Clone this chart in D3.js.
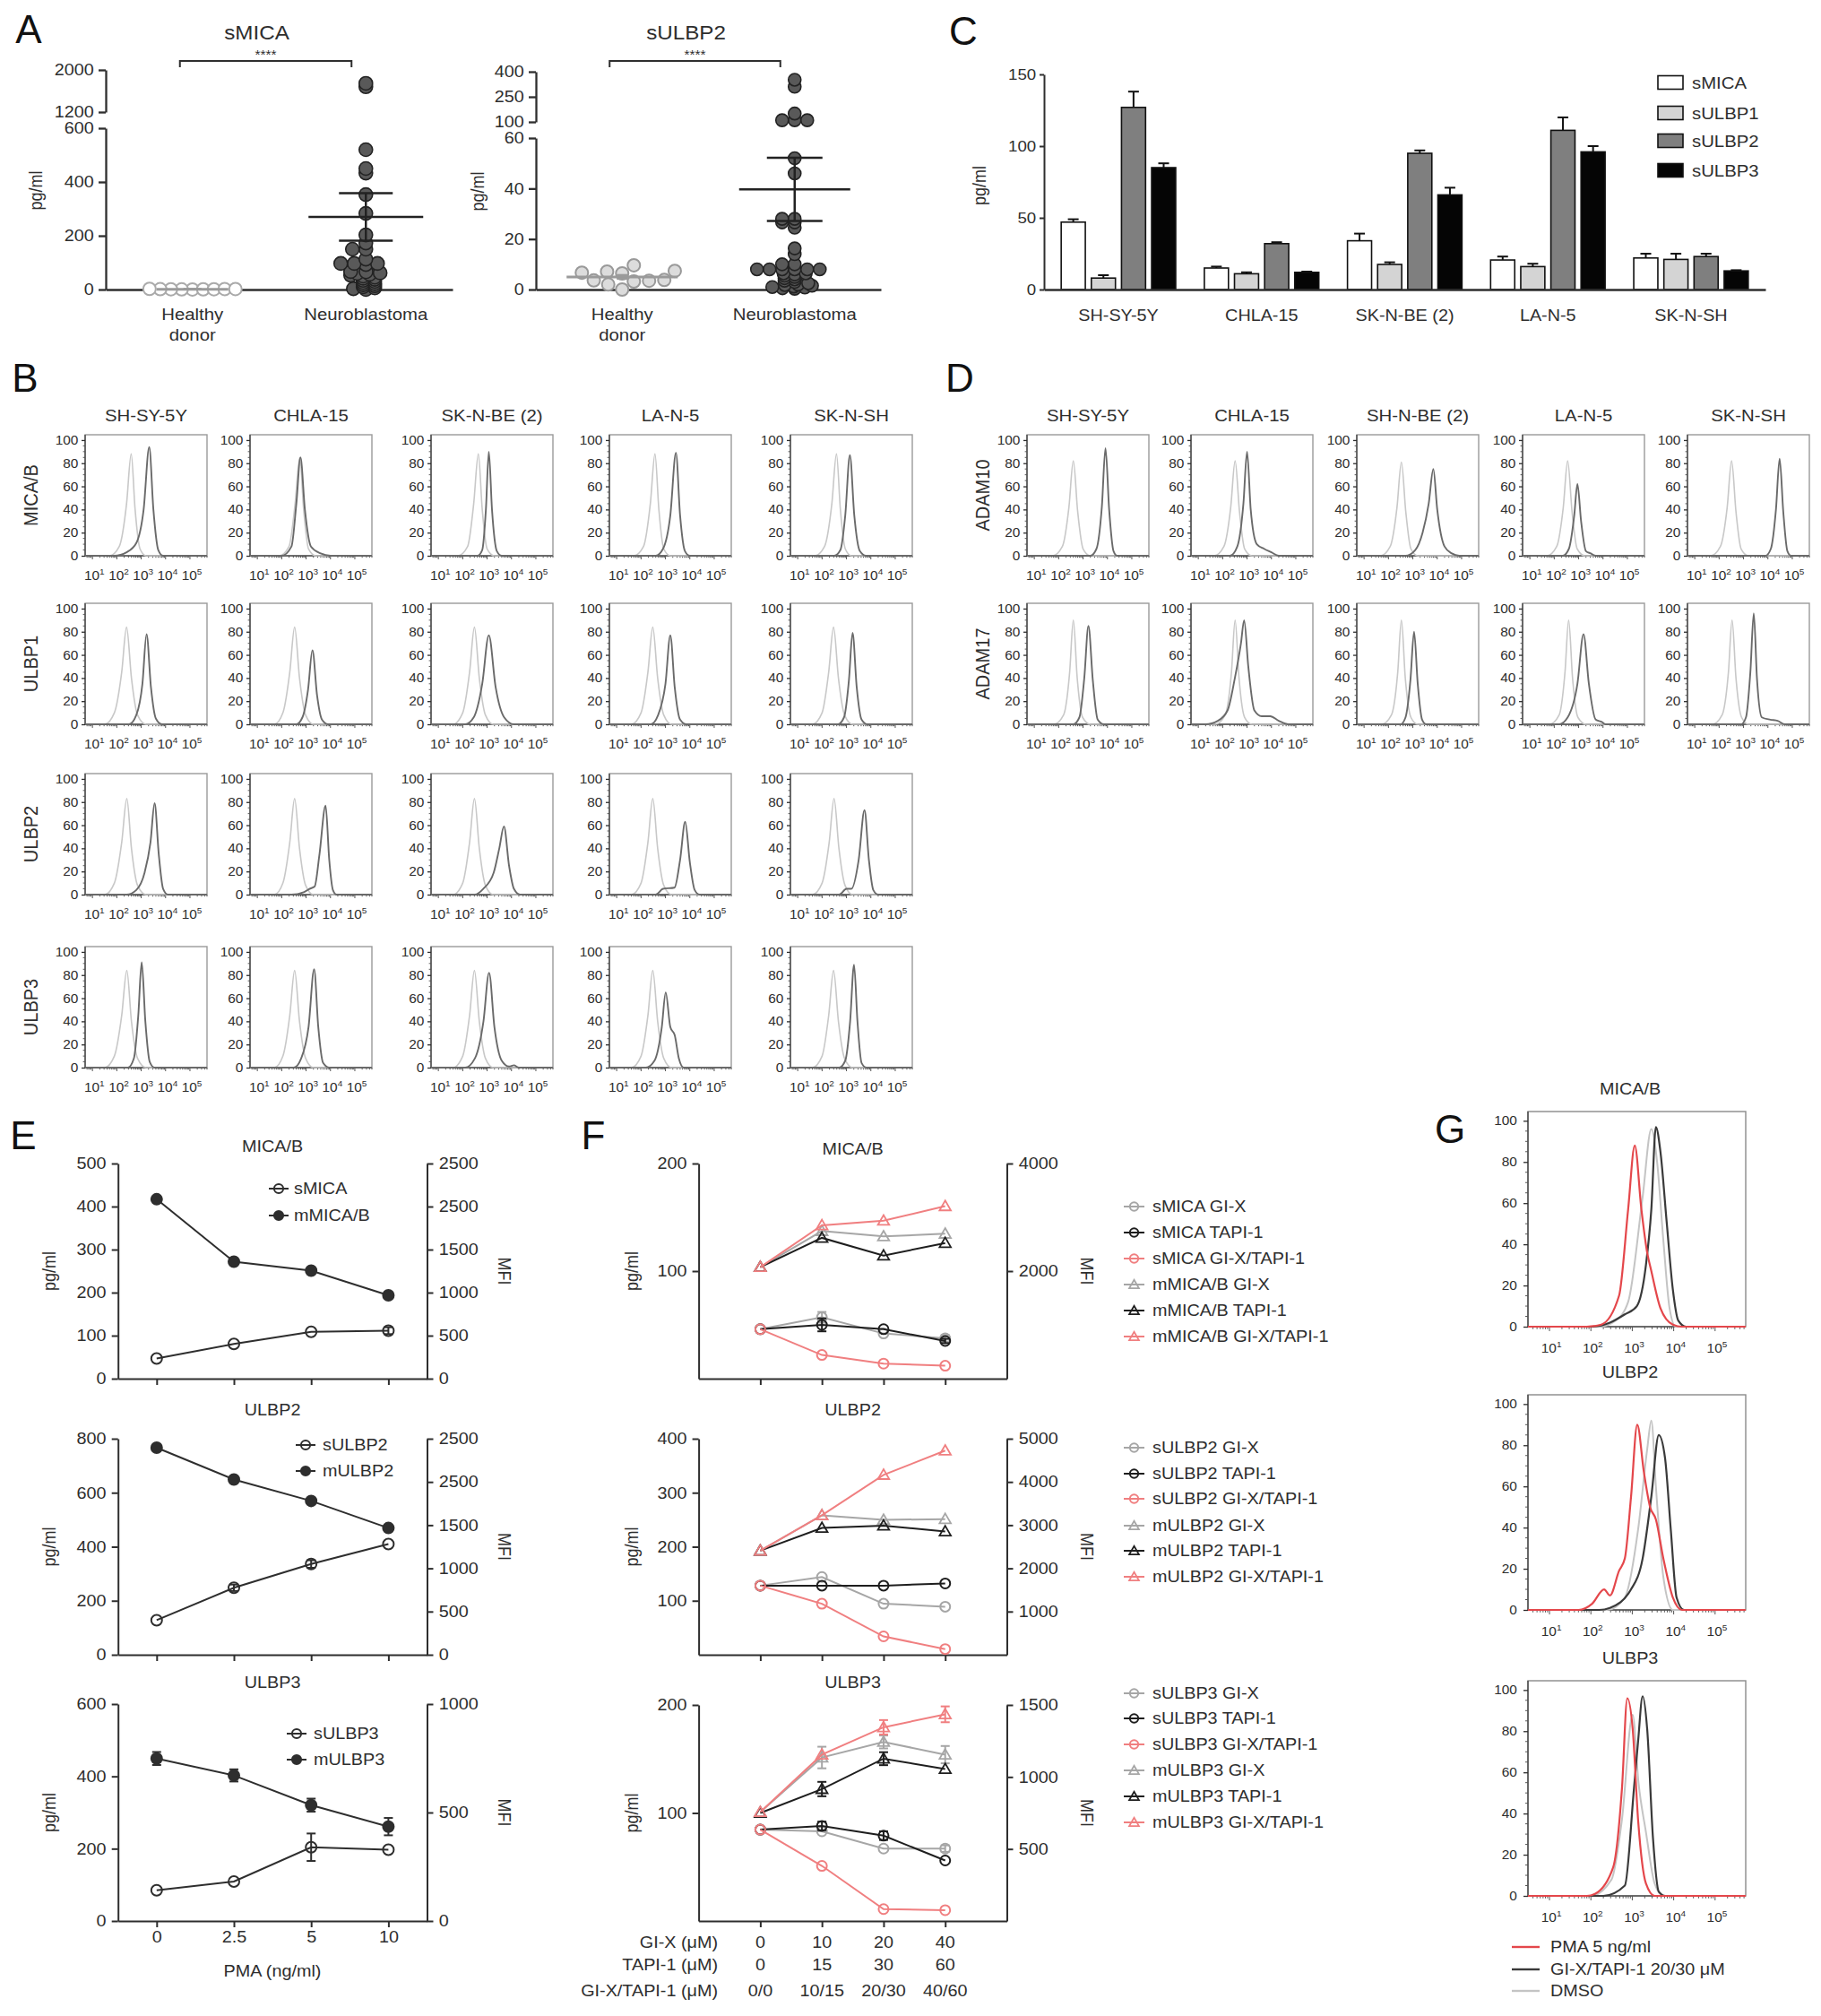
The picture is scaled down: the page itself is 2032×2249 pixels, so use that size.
<!DOCTYPE html>
<html><head><meta charset="utf-8">
<script src="https://cdnjs.cloudflare.com/ajax/libs/d3/7.8.5/d3.min.js"></script>
<style>body{margin:0;background:#fff}svg{display:block;font-family:"Liberation Sans",Arial,Helvetica,sans-serif}</style>
</head><body><script>
// ================= DATA =================
// ---- Panel A ----
const A_groups=["Healthy donor","Neuroblastoma"];
const A_sMICA_healthy=[0.5,1,1.5,2,0.8,1.2,2.5,0.3,1.8];
const A_sMICA_neuro=[1745,1680,520,450,433,353,283,203,173,150,150,113,97,97,97,93,67,66,62,60,57,53,50,46,42,38,34,30,26,22,18,14,10,6,3,0];
const A_sMICA_mean=[1.2,270], A_sMICA_sem=[0.3,88];
const A_sMICA_loTicks=[0,200,400,600], A_sMICA_hiTicks=[1200,2000];
const A_sULBP2_healthy=[6.4,3.5,9.6,7.4,3.2,0,2,6.7,3.8,3.6,7.1];
const A_sULBP2_neuro=[352,310,150,110,110,110,52,46,28,28,26.6,26.6,24.5,16.3,14,10,10,8,8,8,8,8,8,6.4,6.4,6,5.5,5,4.5,4,3.5,3,2.5,2,1.8,1.5,1.2,1,0.8,0.5,0.3];
const A_sULBP2_mean=[5,39.7], A_sULBP2_sem=[0.7,12.5];
const A_sULBP2_loTicks=[0,20,40,60], A_sULBP2_hiTicks=[100,250,400];

// ---- Panel C ----
const C_cells=["SH-SY-5Y","CHLA-15","SK-N-BE (2)","LA-N-5","SK-N-SH"];
const C_series=["sMICA","sULBP1","sULBP2","sULBP3"];
const C_sMICA=[47,15,34,20.6,22],  C_sMICA_err=[2,1,5,2.4,3];
const C_sULBP1=[8,11,17.5,16,21],  C_sULBP1_err=[2,1,1.5,2,4];
const C_sULBP2=[127,32,95,111,23], C_sULBP2_err=[11,1,2,9,2];
const C_sULBP3=[85,12,66,96,13],   C_sULBP3_err=[3,0.5,5,4,0.5];
const C_ticks=[0,50,100,150];

// ---- Panels B / D : histograms, points = [log10(fluorescence), % of max] ----
const B_cells=["SH-SY-5Y","CHLA-15","SK-N-BE (2)","LA-N-5","SK-N-SH"];
const B_markers=["MICA/B","ULBP1","ULBP2","ULBP3"];
const D_cells=["SH-SY-5Y","CHLA-15","SH-N-BE (2)","LA-N-5","SK-N-SH"];
const D_markers=["ADAM10","ADAM17"];
const H_yTicks=[0,20,40,60,80,100], H_xTicks=[1,2,3,4,5];

const B_MICAB_iso=[
 [[1.7,0],[2.1,8],[2.4,45],[2.59,88],[2.75,40],[2.95,6],[3.2,0]],
 [[1.9,0],[2.3,8],[2.55,45],[2.74,85],[2.9,40],[3.1,6],[3.4,0]],
 [[1.8,0],[2.2,8],[2.45,45],[2.64,88],[2.8,40],[3.0,6],[3.3,0]],
 [[1.7,0],[2.1,8],[2.38,45],[2.57,88],[2.73,40],[2.93,6],[3.2,0]],
 [[1.7,0],[2.1,8],[2.4,45],[2.59,88],[2.75,40],[2.95,6],[3.2,0]]];
const B_MICAB_stain=[
 [[1.9,0],[2.4,3],[2.8,11],[3.1,40],[3.33,94],[3.5,40],[3.7,5],[3.9,0]],
 [[2.0,0],[2.4,8],[2.6,45],[2.77,85],[2.95,40],[3.2,8],[3.6,2],[4.0,0]],
 [[2.6,0],[2.8,5],[2.95,40],[3.07,90],[3.2,40],[3.4,4],[3.6,0]],
 [[2.6,0],[2.9,6],[3.2,35],[3.43,89],[3.6,35],[3.8,4],[4.0,0]],
 [[2.5,0],[2.75,5],[2.95,35],[3.14,87],[3.32,35],[3.55,4],[3.8,0]]];
const B_ULBP1_iso=[
 [[1.5,0],[1.9,10],[2.2,45],[2.4,84],[2.6,40],[2.85,8],[3.2,0]],
 [[1.7,0],[2.05,10],[2.33,45],[2.53,84],[2.73,40],[2.98,8],[3.3,0]],
 [[1.6,0],[2.0,10],[2.28,45],[2.48,84],[2.68,40],[2.93,8],[3.25,0]],
 [[1.6,0],[2.0,10],[2.28,45],[2.48,84],[2.68,40],[2.93,8],[3.25,0]],
 [[1.6,0],[2.0,10],[2.27,45],[2.47,84],[2.67,40],[2.92,8],[3.25,0]]];
const B_ULBP1_stain=[
 [[2.5,0],[2.8,8],[3.05,35],[3.22,78],[3.4,32],[3.6,5],[3.85,0]],
 [[2.6,0],[2.85,6],[3.08,30],[3.26,64],[3.45,25],[3.65,4],[3.9,0]],
 [[2.1,0],[2.45,6],[2.8,35],[3.07,77],[3.35,32],[3.7,6],[4.1,0]],
 [[2.4,0],[2.7,8],[3.0,35],[3.2,77],[3.38,32],[3.6,4],[3.85,0]],
 [[2.65,0],[2.9,6],[3.1,38],[3.25,79],[3.42,32],[3.62,4],[3.85,0]]];
const B_ULBP2_iso=[
 [[1.5,0],[1.9,10],[2.2,45],[2.41,83],[2.6,40],[2.85,8],[3.2,0]],
 [[1.7,0],[2.05,10],[2.33,45],[2.53,83],[2.73,40],[2.98,8],[3.3,0]],
 [[1.6,0],[2.0,10],[2.28,45],[2.48,83],[2.68,40],[2.93,8],[3.25,0]],
 [[1.6,0],[2.0,10],[2.28,45],[2.48,83],[2.68,40],[2.93,8],[3.25,0]],
 [[1.6,0],[2.0,10],[2.29,45],[2.49,83],[2.69,40],[2.94,8],[3.25,0]]];
const B_ULBP2_stain=[
 [[2.4,0],[2.8,4],[3.14,19],[3.38,45],[3.55,79],[3.72,35],[3.9,5],[4.1,0]],
 [[2.4,0],[2.9,2],[3.14,5],[3.35,7],[3.55,35],[3.8,77],[3.95,30],[4.1,4],[4.25,0]],
 [[2.5,0],[2.84,5],[3.27,19],[3.5,40],[3.69,59],[3.9,25],[4.1,5],[4.35,0]],
 [[2.6,0],[2.9,5],[3.37,6],[3.6,30],[3.81,63],[4.0,28],[4.2,4],[4.4,0]],
 [[2.7,0],[3.0,5],[3.2,5],[3.5,30],[3.74,73],[3.92,30],[4.1,4],[4.3,0]]];
const B_ULBP3_iso=[
 [[1.5,0],[1.9,10],[2.2,45],[2.41,84],[2.6,40],[2.85,8],[3.2,0]],
 [[1.7,0],[2.05,10],[2.33,45],[2.53,84],[2.73,40],[2.98,8],[3.3,0]],
 [[1.6,0],[2.0,10],[2.28,45],[2.48,84],[2.68,40],[2.93,8],[3.25,0]],
 [[1.6,0],[2.0,10],[2.28,45],[2.48,84],[2.68,40],[2.93,8],[3.25,0]],
 [[1.6,0],[2.0,10],[2.27,45],[2.47,84],[2.67,40],[2.92,8],[3.25,0]]];
const B_ULBP3_stain=[
 [[2.45,0],[2.7,8],[2.88,45],[3.02,91],[3.17,40],[3.35,5],[3.55,0]],
 [[2.5,0],[2.8,8],[3.1,35],[3.33,85],[3.5,35],[3.7,4],[3.95,0]],
 [[2.1,0],[2.5,8],[2.85,40],[3.08,82],[3.3,35],[3.6,6],[3.9,1],[4.1,2],[4.3,0]],
 [[2.2,0],[2.55,6],[2.85,35],[3.01,65],[3.2,35],[3.38,28],[3.55,8],[3.75,0]],
 [[2.7,0],[2.95,6],[3.15,40],[3.31,89],[3.45,40],[3.62,4],[3.82,0]]];

const D_ADAM10_iso=[
 [[1.75,0],[2.15,8],[2.42,42],[2.6,82],[2.78,38],[3.0,6],[3.3,0]],
 [[1.65,0],[2.05,8],[2.33,42],[2.51,82],[2.69,38],[2.9,6],[3.2,0]],
 [[1.67,0],[2.07,8],[2.35,42],[2.53,81],[2.71,38],[2.92,6],[3.2,0]],
 [[1.7,0],[2.1,8],[2.37,42],[2.55,82],[2.73,38],[2.94,6],[3.25,0]],
 [[1.65,0],[2.05,8],[2.33,42],[2.51,82],[2.69,38],[2.9,6],[3.2,0]]];
const D_ADAM10_stain=[
 [[3.3,0],[3.55,6],[3.77,42],[3.92,93],[4.07,40],[4.25,4],[4.4,0]],
 [[2.3,0],[2.6,8],[2.85,45],[3.0,90],[3.15,40],[3.4,10],[3.7,6],[4.0,3],[4.3,0]],
 [[2.7,0],[3.1,5],[3.4,20],[3.65,45],[3.84,75],[4.0,40],[4.3,8],[4.6,2],[4.9,0]],
 [[2.35,0],[2.6,6],[2.82,35],[2.95,62],[3.1,30],[3.3,4],[3.5,2],[3.7,0]],
 [[3.9,0],[4.12,6],[4.33,40],[4.48,84],[4.63,38],[4.8,4],[4.95,0]]];
const D_ADAM17_iso=[
 [[1.8,0],[2.2,8],[2.45,45],[2.6,90],[2.76,40],[2.98,6],[3.3,0]],
 [[1.7,0],[2.1,8],[2.36,45],[2.51,90],[2.67,40],[2.9,6],[3.2,0]],
 [[1.72,0],[2.12,8],[2.38,45],[2.53,90],[2.69,40],[2.92,6],[3.2,0]],
 [[1.8,0],[2.2,8],[2.44,45],[2.59,90],[2.75,40],[2.97,6],[3.3,0]],
 [[1.72,0],[2.12,8],[2.38,45],[2.53,90],[2.69,40],[2.92,6],[3.2,0]]];
const D_ADAM17_stain=[
 [[2.6,0],[2.85,6],[3.05,40],[3.22,85],[3.4,38],[3.6,4],[3.85,0]],
 [[1.3,0],[1.8,3],[2.2,12],[2.5,40],[2.75,70],[2.88,90],[3.05,50],[3.3,12],[3.6,7],[3.95,7],[4.3,3],[4.7,0]],
 [[2.5,0],[2.7,6],[2.9,38],[3.05,80],[3.2,35],[3.38,4],[3.55,0]],
 [[2.2,0],[2.55,6],[2.95,35],[3.2,78],[3.42,35],[3.7,4],[3.95,2],[4.1,0]],
 [[2.9,0],[3.1,6],[3.28,45],[3.42,96],[3.55,40],[3.75,6],[4.1,4],[4.4,3],[4.7,0]]];

// ---- Panel E ----
const E_pma=["0","2.5","5","10"];
const E_sMICA=[47,80.6,109,111.5], E_sMICA_err=[0,0,0,8];
const E_mMICAB=[2085,1359,1255,969];
const E_sULBP2=[128,248,336,410], E_sULBP2_err=[0,12,14,0];
const E_mULBP2=[2396,2028,1780,1467];
const E_sULBP3=[85,109,204,197], E_sULBP3_err=[0,0,38,0];
const E_mULBP3=[749,671,534,435], E_mULBP3_err=[30,28,30,40];
const E_rightLabelsA=["0","500","1000","1500","2500","2500"];

// ---- Panel F ----
const F_gix=["0","10","20","40"], F_tapi=["0","15","30","60"], F_combo=["0/0","10/15","20/30","40/60"];
const F_sMICA_GIX=[46,57,42,37.5], F_sMICA_GIX_err=[0,5,0,3];
const F_sMICA_TAPI=[46,50,46,35],  F_sMICA_TAPI_err=[0,6,0,2];
const F_sMICA_COMBO=[46,22,14,12];
const F_mMICAB_GIX=[2074,2744,2645,2694];
const F_mMICAB_TAPI=[2074,2618,2288,2522];
const F_mMICAB_COMBO=[2074,2851,2937,3207];
const F_sULBP2_GIX=[128,144,94.5,89];
const F_sULBP2_TAPI=[128,128,128,132];
const F_sULBP2_COMBO=[128,94.5,34,10.5];
const F_mULBP2_GIX=[2408,3227,3122,3140];
const F_mULBP2_TAPI=[2408,2935,2989,2854];
const F_mULBP2_COMBO=[2408,3227,4163,4724];
const F_sULBP3_GIX=[84.6,83,67,67], F_sULBP3_GIX_err=[0,0,0,3];
const F_sULBP3_TAPI=[84.6,88,79,56], F_sULBP3_TAPI_err=[0,4,4,0];
const F_sULBP3_COMBO=[84.6,51,11,10];
const F_mULBP3_GIX=[756,1135,1243,1155], F_mULBP3_GIX_err=[0,75,45,60];
const F_mULBP3_TAPI=[750,916,1127,1055], F_mULBP3_TAPI_err=[0,50,45,0];
const F_mULBP3_COMBO=[756,1155,1345,1435], F_mULBP3_COMBO_err=[0,0,50,55];

// ---- Panel G ----
const G_titles=["MICA/B","ULBP2","ULBP3"];
const G_legend=["PMA 5 ng/ml","GI-X/TAPI-1 20/30 \u03bcM","DMSO"];
const G_MICAB_DMSO=[[2.2,0],[2.6,3],[2.9,12],[3.25,63],[3.46,96],[3.6,80],[3.75,42],[3.9,9],[4.05,0]];
const G_MICAB_GIX=[[2.0,0],[2.46,2],[2.82,6],[3.11,10],[3.33,30],[3.46,57],[3.57,97],[3.68,85],[3.83,51],[3.98,18],[4.11,3],[4.3,0]];
const G_MICAB_PMA=[[1.9,0],[2.25,1],[2.68,15],[2.9,57],[3.06,88],[3.22,57],[3.36,36],[3.46,27],[3.68,9],[3.98,1],[4.2,0]];
const G_ULBP2_DMSO=[[2.4,0],[2.82,6],[3.14,39],[3.36,78],[3.46,92],[3.57,60],[3.75,16],[3.98,0]];
const G_ULBP2_GIX=[[2.2,0],[2.46,1],[2.97,10],[3.25,25],[3.46,55],[3.64,85],[3.79,74],[3.93,39],[4.07,6],[4.25,0]];
const G_ULBP2_PMA=[[1.7,0],[2.03,3],[2.32,10],[2.46,7],[2.68,19],[2.82,25],[2.97,55],[3.12,90],[3.28,67],[3.43,50],[3.57,44],[3.75,25],[3.98,6],[4.2,0]];
const G_ULBP3_DMSO=[[2.0,0],[2.5,8],[2.75,37],[3.01,88],[3.15,55],[3.33,31],[3.54,6],[3.75,0]];
const G_ULBP3_GIX=[[2.3,0],[2.82,5],[3.04,52],[3.14,75],[3.25,97],[3.36,81],[3.5,28],[3.64,2],[3.8,0]];
const G_ULBP3_PMA=[[1.9,0],[2.1,1],[2.54,14],[2.75,52],[2.88,96],[3.01,81],[3.14,37],[3.33,6],[3.54,0]];

// ================= LAYOUT / STYLE =================
const SX=1.1, INK="#2e2e2e";
const GRAY="#a6a6a6", BLACK="#1e1e1e", RED="#f07f80";
const svg=d3.select("body").append("svg").attr("width",2032).attr("height",2249);
svg.append("rect").attr("width",2032).attr("height",2249).attr("fill","#fff");

function txt(g,x,y,s,o={}){
  const t=g.append("text")
   .attr("transform",`translate(${x},${y}) scale(${o.sx??SX},1)${o.rot?` rotate(${o.rot})`:""}`)
   .attr("font-size",o.fs||18).attr("text-anchor",o.anchor||"middle").attr("fill",o.fill||INK);
  t.text(s); return t;
}
function styleAxis(sel,fs,sw){
  sel.attr("font-family",null).attr("font-size",null);
  sel.selectAll("path.domain").attr("stroke",INK).attr("stroke-width",sw);
  sel.selectAll(".tick line").attr("stroke",INK).attr("stroke-width",sw);
  sel.selectAll(".tick text").attr("font-size",fs).attr("fill",INK).attr("transform",`scale(${SX},1)`);
  return sel;
}
function marker(g,cx,cy,shape,color,filled,sz){
  if(shape==="circle") g.append("circle").attr("cx",cx).attr("cy",cy).attr("r",sz)
     .attr("fill",filled?color:"none").attr("stroke",color).attr("stroke-width",2);
  else g.append("path").attr("d",d3.symbol(d3.symbolTriangle,sz*sz*2.3)())
     .attr("transform",`translate(${cx},${cy+1})`).attr("fill",filled?color:"none")
     .attr("stroke",color).attr("stroke-width",1.8);
}

// panel letters
[["A",32,48],["B",28,437],["C",1075,50],["D",1071,437],["E",26,1282],["F",662,1282],["G",1618,1275]]
 .forEach(([s,x,y])=>txt(svg,x,y,s,{fs:44,sx:1,fill:"#111"}));

// ================= PANEL A =================
function swarm(vals,yf,a,b){
  const pts=vals.map(v=>({v,y:yf(v),x:0})).sort((p,q)=>p.v-q.v);
  const placed=[];
  pts.forEach(p=>{
    const c=[0];
    placed.forEach(q=>{const dy=(p.y-q.y)/b; if(Math.abs(dy)<1){const dx=a*Math.sqrt(1-dy*dy); c.push(q.x+dx+0.01,q.x-dx-0.01);}});
    c.sort((m,n)=>Math.abs(m)-Math.abs(n)||m-n);
    for(const cx of c){ if(placed.every(q=>{const dx=(cx-q.x)/a,dy=(p.y-q.y)/b;return dx*dx+dy*dy>=0.999;})){p.x=cx;break;} }
    placed.push(p);
  });
  return placed;
}
function panelA(S){
  const g=svg.append("g");
  const yLo=d3.scaleLinear().domain([0,S.loTicks[S.loTicks.length-1]]).range([S.y0,S.yLoTop]);
  const yHi=d3.scaleLinear().domain([S.hiTicks[0],S.hiTicks[S.hiTicks.length-1]]).range([S.yHiBot,S.yHiTop]);
  const loMax=yLo.domain()[1];
  const y=v=>v<=loMax?yLo(v):yHi(v);
  const x=d3.scalePoint().domain(A_groups).range([S.x0,S.x1]).padding(0.5);
  const fmt=d3.format("d");
  styleAxis(g.append("g").attr("transform",`translate(${S.x0},0)`).call(d3.axisLeft(yLo).tickValues(S.loTicks).tickFormat(fmt).tickSize(8).tickSizeOuter(0).tickPadding(4)),18,2.3);
  styleAxis(g.append("g").attr("transform",`translate(${S.x0},0)`).call(d3.axisLeft(yHi).tickValues(S.hiTicks).tickFormat(fmt).tickSize(8).tickSizeOuter(0).tickPadding(4)),18,2.3);
  styleAxis(g.append("g").attr("transform",`translate(0,${S.y0})`).call(d3.axisBottom(x).tickSize(5).tickSizeOuter(0).tickFormat(()=>"")),18,2.3);
  txt(g,x(A_groups[0]),S.y0+34,"Healthy",{fs:18.5});
  txt(g,x(A_groups[0]),S.y0+57,"donor",{fs:18.5});
  txt(g,x(A_groups[1]),S.y0+34,"Neuroblastoma",{fs:18.5});
  txt(g,S.ylabX,(S.y0+S.yHiTop)/2+12,"pg/ml",{fs:18,rot:-90});
  const bx0=x(A_groups[0])-14, bx1=x(A_groups[1])-16;
  g.append("path").attr("d",`M${bx0},75V68H${bx1}V75`).attr("fill","none").attr("stroke",INK).attr("stroke-width",2);
  txt(g,(bx0+bx1)/2,66,"****",{fs:14});
  txt(g,(bx0+bx1)/2-10,44,S.title,{fs:22});
  const groups=[S.healthy,S.neuro];
  groups.forEach((vals,gi)=>{
    const cx=x(A_groups[gi]);
    const pts=swarm(vals,y,gi?S.aN:S.aH,gi?2.4:S.bH);
    pts.forEach(p=>g.append("circle").attr("cx",cx+p.x).attr("cy",p.y).attr("r",gi?S.rN:7)
      .attr("fill",gi?"#595959":S.hFill).attr("stroke",gi?"#222":S.hStroke).attr("stroke-width",gi?1.6:2));
  });
  [0,1].forEach(gi=>{
    const cx=x(A_groups[gi]), col=gi?"#222":"#9a9a9a", m=S.mean[gi], s=S.sem[gi];
    g.append("line").attr("x1",cx-S.mw[gi]).attr("x2",cx+S.mw[gi]).attr("y1",y(m)).attr("y2",y(m)).attr("stroke",col).attr("stroke-width",gi?2.5:3);
    g.append("line").attr("x1",cx).attr("x2",cx).attr("y1",y(m-s)).attr("y2",y(m+s)).attr("stroke",col).attr("stroke-width",2.5);
    [m-s,m+s].forEach(v=>g.append("line").attr("x1",cx-S.cw[gi]).attr("x2",cx+S.cw[gi]).attr("y1",y(v)).attr("y2",y(v)).attr("stroke",col).attr("stroke-width",2.5));
  });
}
panelA({title:"sMICA",x0:118,x1:505,y0:323,yLoTop:143,yHiBot:125,yHiTop:78,loTicks:A_sMICA_loTicks,hiTicks:A_sMICA_hiTicks,
  healthy:A_sMICA_healthy,neuro:A_sMICA_neuro,mean:A_sMICA_mean,sem:A_sMICA_sem,aH:12,bH:2.4,aN:15,rN:7.5,
  hFill:"#fff",hStroke:"#aaa",mw:[40,64],cw:[10,30],ylabX:47});
panelA({title:"sULBP2",x0:598,x1:983,y0:323,yLoTop:154,yHiBot:136,yHiTop:80,loTicks:A_sULBP2_loTicks,hiTicks:A_sULBP2_hiTicks,
  healthy:A_sULBP2_healthy,neuro:A_sULBP2_neuro,mean:A_sULBP2_mean,sem:A_sULBP2_sem,aH:17,bH:14,aN:14,rN:7,
  hFill:"#dcdcdc",hStroke:"#999",mw:[62,62],cw:[6,31],ylabX:540});

// ================= PANEL C =================
(function(){
  const g=svg.append("g");
  const x0=d3.scaleBand().domain(C_cells).range([1165,1970]).paddingInner(0.2).paddingOuter(0.12);
  const x1=d3.scaleBand().domain(C_series).range([0,x0.bandwidth()]).paddingInner(0.2);
  const y=d3.scaleLinear().domain([0,150]).range([323,83]);
  const vals=[C_sMICA,C_sULBP1,C_sULBP2,C_sULBP3], errs=[C_sMICA_err,C_sULBP1_err,C_sULBP2_err,C_sULBP3_err];
  const fills=["#ffffff","#d4d4d4","#7f7f7f","#050505"];
  C_series.forEach((s,si)=>C_cells.forEach((c,ci)=>{
    const bx=x0(c)+x1(s), v=vals[si][ci], e=errs[si][ci], cx=bx+x1.bandwidth()/2;
    g.append("line").attr("x1",cx).attr("x2",cx).attr("y1",y(v)).attr("y2",y(v+e)).attr("stroke","#111").attr("stroke-width",2);
    g.append("line").attr("x1",cx-6).attr("x2",cx+6).attr("y1",y(v+e)).attr("y2",y(v+e)).attr("stroke","#111").attr("stroke-width",2);
    g.append("rect").attr("x",bx).attr("y",y(v)).attr("width",x1.bandwidth()).attr("height",y(0)-y(v))
      .attr("fill",fills[si]).attr("stroke","#111").attr("stroke-width",1.6);
  }));
  styleAxis(g.append("g").attr("transform","translate(1165,0)").call(d3.axisLeft(y).tickValues(C_ticks).tickSize(5).tickSizeOuter(0).tickPadding(3)),17,2);
  styleAxis(g.append("g").attr("transform","translate(0,323)").call(d3.axisBottom(x0).tickSize(0).tickSizeOuter(0).tickPadding(22)),18,2.4);
  txt(g,1100,207,"pg/ml",{fs:18,rot:-90});
  const ly=[92,126,157,190];
  C_series.forEach((s,i)=>{
    g.append("rect").attr("x",1850).attr("y",ly[i]-7.5).attr("width",28).attr("height",15).attr("fill",fills[i]).attr("stroke","#111").attr("stroke-width",1.6);
    txt(g,1888,ly[i]+7,s,{fs:18.5,anchor:"start"});
  });
})();

// ================= HISTOGRAMS (B, D, G) =================
function histPanel(g,L,T,Wd,Ht,xdom,ymax,curves,o){
  const x=d3.scaleLinear().domain(xdom).range([L,L+Wd]);
  const y=d3.scaleLinear().domain([0,ymax]).range([T+Ht,T]);
  g.append("rect").attr("x",L).attr("y",T).attr("width",Wd).attr("height",Ht).attr("fill","none").attr("stroke",o.box).attr("stroke-width",1.4);
  g.append("path").attr("d",`M${L},${T}V${T+Ht}H${L+Wd}`).attr("fill","none").attr("stroke",o.axis).attr("stroke-width",1.6);
  const ya=g.append("g").attr("transform",`translate(${L},0)`).call(d3.axisLeft(y).tickValues(H_yTicks).tickSize(o.tick).tickPadding(o.pad).tickSizeOuter(0));
  styleAxis(ya,o.fsY,1.3); ya.select(".domain").remove();
  d3.range(5,ymax,5).filter(v=>v%20).forEach(v=>g.append("line").attr("x1",L-o.tick*0.6).attr("x2",L).attr("y1",y(v)).attr("y2",y(v)).attr("stroke",o.axis).attr("stroke-width",1));
  for(let d=Math.floor(xdom[0]);d<=Math.ceil(xdom[1]);d++){
    for(let m=1;m<10;m++){
      const lv=d+Math.log10(m); if(lv<xdom[0]||lv>xdom[1]) continue;
      g.append("line").attr("x1",x(lv)).attr("x2",x(lv)).attr("y1",T+Ht).attr("y2",T+Ht+(m===1?o.tick:o.tick*0.55)).attr("stroke",o.axis).attr("stroke-width",1);
    }
  }
  H_xTicks.forEach(k=>{
    const t=txt(g,x(k)+o.fsX*0.15,T+Ht+o.lab,"",{fs:o.fsX});
    t.append("tspan").text("10");
    t.append("tspan").attr("font-size",o.fsX*0.65).attr("dy",-o.fsX*0.4).text(k);
  });
  const line=d3.line().x(d=>x(d[0])).y(d=>y(d[1])).curve(d3.curveMonotoneX);
  curves.forEach(c=>g.append("path").attr("d",line([[xdom[0],0],...c.pts,[xdom[1],0]]))
     .attr("fill","none").attr("stroke",c.color).attr("stroke-width",c.w).attr("stroke-linejoin","round"));
}
const histStyleBD={box:"#9a9a9a",axis:"#555",tick:4,pad:3,fsY:14,fsX:14,lab:27};
const ISO="#c8c8c8", STAIN="#6a6a6a";

// Panel B
(function(){
  const g=svg.append("g");
  const colL=[95,279,481,680,882], rowT=[485,673,863,1056], Wd=136, Ht=135;
  const rows=[[B_MICAB_iso,B_MICAB_stain],[B_ULBP1_iso,B_ULBP1_stain],[B_ULBP2_iso,B_ULBP2_stain],[B_ULBP3_iso,B_ULBP3_stain]];
  B_cells.forEach((c,ci)=>txt(g,colL[ci]+Wd/2,470,c,{fs:18.5}));
  B_markers.forEach((m,ri)=>txt(g,42,rowT[ri]+Ht/2,m,{fs:20,rot:-90}));
  rows.forEach((r,ri)=>colL.forEach((L,ci)=>histPanel(g,L,rowT[ri],Wd,Ht,[0.7,5.7],104.6,
    [{pts:r[0][ci],color:ISO,w:1.6},{pts:r[1][ci],color:STAIN,w:1.9}],histStyleBD)));
})();
// Panel D
(function(){
  const g=svg.append("g");
  const colL=[1146,1329,1514,1699,1883], rowT=[485,673], Wd=136, Ht=135;
  const rows=[[D_ADAM10_iso,D_ADAM10_stain],[D_ADAM17_iso,D_ADAM17_stain]];
  D_cells.forEach((c,ci)=>txt(g,colL[ci]+Wd/2,470,c,{fs:18.5}));
  D_markers.forEach((m,ri)=>txt(g,1104,rowT[ri]+Ht/2,m,{fs:20,rot:-90}));
  rows.forEach((r,ri)=>colL.forEach((L,ci)=>histPanel(g,L,rowT[ri],Wd,Ht,[0.7,5.7],104.6,
    [{pts:r[0][ci],color:ISO,w:1.6},{pts:r[1][ci],color:STAIN,w:1.9}],histStyleBD)));
})();
// Panel G
(function(){
  const g=svg.append("g");
  const tops=[1240,1556,1875], L=1705, Wd=243, Ht=240;
  const sets=[[G_MICAB_DMSO,G_MICAB_GIX,G_MICAB_PMA],[G_ULBP2_DMSO,G_ULBP2_GIX,G_ULBP2_PMA],[G_ULBP3_DMSO,G_ULBP3_GIX,G_ULBP3_PMA]];
  const cols=["#c4c4c4","#3a3a3a","#e4474b"];
  const st={box:"#8a8a8a",axis:"#555",tick:5,pad:6,fsY:14,fsX:14,lab:29};
  sets.forEach((s,i)=>{
    txt(g,1819,tops[i]-19,G_titles[i],{fs:18});
    histPanel(g,L,tops[i],Wd,Ht,[0.48,5.74],104.5,s.map((p,j)=>({pts:p,color:cols[j],w:j===0?2:2.2})),st);
  });
  const ly=[2172,2197,2221], lc=[cols[2],cols[1],cols[0]];
  G_legend.forEach((s,i)=>{
    g.append("line").attr("x1",1687).attr("x2",1718).attr("y1",ly[i]).attr("y2",ly[i]).attr("stroke",lc[i]).attr("stroke-width",2.4);
    txt(g,1730,ly[i]+6,s,{fs:18,anchor:"start"});
  });
})();

// ================= PANELS E / F =================
function dualPanel(S){
  const g=svg.append("g");
  const x=d3.scalePoint().domain(S.cats).range([S.l,S.r]).padding(S.pad);
  const yL=d3.scaleLinear().domain(S.yLdom).range([S.bot,S.top]);
  const yR=d3.scaleLinear().domain(S.yRdom).range([S.bot,S.top]);
  styleAxis(g.append("g").attr("transform",`translate(${S.l},0)`).call(d3.axisLeft(yL).tickValues(S.yLticks).tickSize(7).tickSizeOuter(0).tickPadding(5)),18,2);
  styleAxis(g.append("g").attr("transform",`translate(${S.r},0)`).call(d3.axisRight(yR).tickValues(S.yRticks).tickFormat((d,i)=>S.yRlabels?S.yRlabels[i]:d).tickSize(7).tickSizeOuter(0).tickPadding(5)),18,2);
  styleAxis(g.append("g").attr("transform",`translate(0,${S.bot})`).call(d3.axisBottom(x).tickSize(7).tickSizeOuter(0).tickPadding(4).tickFormat(S.xlabels?(d,i)=>S.xlabels[i]:()=>"")),18,2);
  txt(g,(S.l+S.r)/2,S.titleY,S.title,{fs:18});
  txt(g,S.plX,(S.top+S.bot)/2,"pg/ml",{fs:18,rot:-90});
  txt(g,S.mfiX,(S.top+S.bot)/2,"MFI",{fs:18,rot:90});
  S.series.forEach(s=>{
    const y=s.axis==="R"?yR:yL;
    const pts=s.vals.map((v,i)=>({x:x(S.cats[i]),v,e:s.err?s.err[i]:0}));
    g.append("path").attr("d",d3.line().x(d=>d.x).y(d=>y(d.v))(pts)).attr("fill","none").attr("stroke",s.color).attr("stroke-width",2);
    pts.forEach(p=>{ if(p.e>0){
      g.append("line").attr("x1",p.x).attr("x2",p.x).attr("y1",y(p.v-p.e)).attr("y2",y(p.v+p.e)).attr("stroke",s.color).attr("stroke-width",2);
      [p.v-p.e,p.v+p.e].forEach(v=>g.append("line").attr("x1",p.x-5).attr("x2",p.x+5).attr("y1",y(v)).attr("y2",y(v)).attr("stroke",s.color).attr("stroke-width",2));
    }});
    pts.forEach(p=>marker(g,p.x,y(p.v),s.shape,s.color,s.filled,S.msz));
  });
  S.legend.forEach((it,i)=>{
    const yy=S.legY[i];
    g.append("line").attr("x1",S.legX0).attr("x2",S.legX1).attr("y1",yy).attr("y2",yy).attr("stroke",it.color).attr("stroke-width",2);
    marker(g,(S.legX0+S.legX1)/2,yy,it.shape,it.color,it.filled,S.msz*0.85);
    txt(g,S.legTX,yy+6,it.label,{fs:18,anchor:"start"});
  });
  return {g,x};
}
// E
const Ecommon={cats:E_pma,l:131.7,r:476.5,pad:0.5,plX:62,mfiX:556,msz:6};
const eS=(vals,err,axis,filled)=>({vals,err,axis,shape:"circle",filled,color:INK});
dualPanel({...Ecommon,top:1298,bot:1538,title:"MICA/B",titleY:1285,yLdom:[0,500],yLticks:[0,100,200,300,400,500],
  yRdom:[0,2500],yRticks:[0,500,1000,1500,2000,2500],yRlabels:E_rightLabelsA,
  series:[eS(E_mMICAB,null,"R",true),eS(E_sMICA,E_sMICA_err,"L",false)],
  legend:[{label:"sMICA",shape:"circle",filled:false,color:INK},{label:"mMICA/B",shape:"circle",filled:true,color:INK}],
  legX0:300,legX1:322,legTX:328,legY:[1326,1356]});
dualPanel({...Ecommon,top:1605,bot:1846,title:"ULBP2",titleY:1579,yLdom:[0,800],yLticks:[0,200,400,600,800],
  yRdom:[0,2500],yRticks:[0,500,1000,1500,2000,2500],yRlabels:E_rightLabelsA,
  series:[eS(E_mULBP2,null,"R",true),eS(E_sULBP2,E_sULBP2_err,"L",false)],
  legend:[{label:"sULBP2",shape:"circle",filled:false,color:INK},{label:"mULBP2",shape:"circle",filled:true,color:INK}],
  legX0:330,legX1:352,legTX:360,legY:[1612,1641]});
dualPanel({...Ecommon,top:1901,bot:2143,title:"ULBP3",titleY:1883,yLdom:[0,600],yLticks:[0,200,400,600],
  yRdom:[0,1000],yRticks:[0,500,1000],xlabels:E_pma,
  series:[eS(E_mULBP3,E_mULBP3_err,"R",true),eS(E_sULBP3,E_sULBP3_err,"L",false)],
  legend:[{label:"sULBP3",shape:"circle",filled:false,color:INK},{label:"mULBP3",shape:"circle",filled:true,color:INK}],
  legX0:320,legX1:342,legTX:350,legY:[1934,1963]});
txt(svg,304,2205,"PMA (ng/ml)",{fs:18});

// F
const Fcommon={cats:F_gix,l:779.6,r:1123.5,pad:1,plX:712,mfiX:1206,msz:5.5,legX0:1254,legX1:1277,legTX:1286};
const fS=(vals,err,axis,shape,color)=>({vals,err,axis,shape,color,filled:false});
const fLeg=(sName,mName)=>[
  {label:sName+" GI-X",shape:"circle",color:GRAY},{label:sName+" TAPI-1",shape:"circle",color:BLACK},{label:sName+" GI-X/TAPI-1",shape:"circle",color:RED},
  {label:mName+" GI-X",shape:"tri",color:GRAY},{label:mName+" TAPI-1",shape:"tri",color:BLACK},{label:mName+" GI-X/TAPI-1",shape:"tri",color:RED}];
dualPanel({...Fcommon,top:1298,bot:1538,title:"MICA/B",titleY:1288,yLdom:[0,200],yLticks:[100,200],yRdom:[0,4000],yRticks:[2000,4000],
  series:[fS(F_mMICAB_GIX,null,"R","tri",GRAY),fS(F_mMICAB_TAPI,null,"R","tri",BLACK),fS(F_mMICAB_COMBO,null,"R","tri",RED),
          fS(F_sMICA_GIX,F_sMICA_GIX_err,"L","circle",GRAY),fS(F_sMICA_TAPI,F_sMICA_TAPI_err,"L","circle",BLACK),fS(F_sMICA_COMBO,null,"L","circle",RED)],
  legend:fLeg("sMICA","mMICA/B"),legY:[1346,1375,1404,1433,1462,1491]});
dualPanel({...Fcommon,top:1605,bot:1846,title:"ULBP2",titleY:1579,yLdom:[0,400],yLticks:[100,200,300,400],yRdom:[0,5000],yRticks:[1000,2000,3000,4000,5000],
  series:[fS(F_mULBP2_GIX,null,"R","tri",GRAY),fS(F_mULBP2_TAPI,null,"R","tri",BLACK),fS(F_mULBP2_COMBO,null,"R","tri",RED),
          fS(F_sULBP2_GIX,null,"L","circle",GRAY),fS(F_sULBP2_TAPI,null,"L","circle",BLACK),fS(F_sULBP2_COMBO,null,"L","circle",RED)],
  legend:fLeg("sULBP2","mULBP2"),legY:[1615,1644,1672,1702,1730,1759]});
const fLast=dualPanel({...Fcommon,top:1902,bot:2143,title:"ULBP3",titleY:1883,yLdom:[0,200],yLticks:[100,200],yRdom:[0,1500],yRticks:[500,1000,1500],
  series:[fS(F_mULBP3_GIX,F_mULBP3_GIX_err,"R","tri",GRAY),fS(F_mULBP3_TAPI,F_mULBP3_TAPI_err,"R","tri",BLACK),fS(F_mULBP3_COMBO,F_mULBP3_COMBO_err,"R","tri",RED),
          fS(F_sULBP3_GIX,F_sULBP3_GIX_err,"L","circle",GRAY),fS(F_sULBP3_TAPI,F_sULBP3_TAPI_err,"L","circle",BLACK),fS(F_sULBP3_COMBO,null,"L","circle",RED)],
  legend:fLeg("sULBP3","mULBP3"),legY:[1889,1917,1946,1975,2004,2033]});
[["GI-X (\u03bcM)",F_gix,2173],["TAPI-1 (\u03bcM)",F_tapi,2198],["GI-X/TAPI-1 (\u03bcM)",F_combo,2227]].forEach(([lab,vals,yy])=>{
  txt(svg,801,yy,lab,{fs:18,anchor:"end"});
  vals.forEach((v,i)=>txt(svg,fLast.x(F_gix[i]),yy,v,{fs:18}));
});
</script></body></html>
